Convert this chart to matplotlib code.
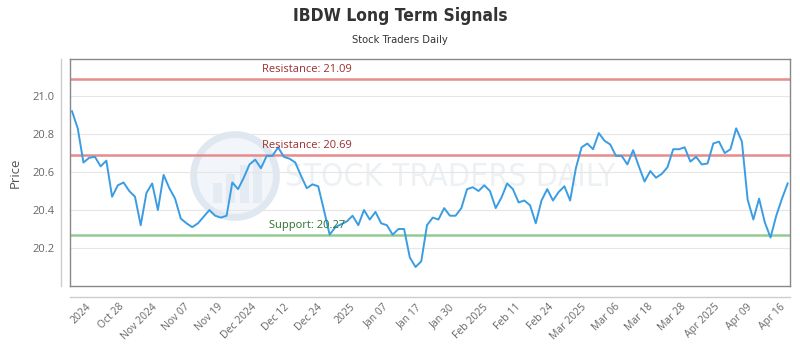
import matplotlib
matplotlib.use('Agg')
import matplotlib.pyplot as plt
from matplotlib.patches import Circle, Rectangle
import numpy as np

# closing prices (one per trading day)
prices = [20.92, 20.83, 20.65, 20.675, 20.68, 20.63, 20.66, 20.47, 20.53, 20.545,
          20.50, 20.47, 20.32, 20.49, 20.54, 20.40, 20.585, 20.515, 20.46, 20.355,
          20.33, 20.31, 20.33, 20.365, 20.40, 20.37, 20.36, 20.37, 20.545, 20.51,
          20.57, 20.64, 20.665, 20.62, 20.685, 20.685, 20.73, 20.68, 20.67, 20.65,
          20.58, 20.515, 20.535, 20.525, 20.40, 20.27, 20.31, 20.325, 20.34, 20.37,
          20.32, 20.40, 20.35, 20.39, 20.33, 20.32, 20.27, 20.30, 20.30, 20.15,
          20.10, 20.13, 20.32, 20.36, 20.35, 20.41, 20.37, 20.37, 20.41, 20.51,
          20.52, 20.50, 20.53, 20.50, 20.41, 20.465, 20.54, 20.51, 20.44, 20.45,
          20.425, 20.33, 20.45, 20.51, 20.45, 20.495, 20.525, 20.45, 20.62, 20.73,
          20.75, 20.72, 20.805, 20.765, 20.745, 20.685, 20.685, 20.64, 20.715, 20.63,
          20.55, 20.605, 20.57, 20.59, 20.625, 20.72, 20.72, 20.73, 20.655, 20.68,
          20.64, 20.645, 20.75, 20.76, 20.70, 20.72, 20.83, 20.76, 20.455, 20.35,
          20.46, 20.335, 20.255, 20.37, 20.46, 20.54]

tick_labels = ['2024', 'Oct 28', 'Nov 2024', 'Nov 07', 'Nov 19', 'Dec 2024',
               'Dec 12', 'Dec 24', '2025', 'Jan 07', 'Jan 17', 'Jan 30',
               'Feb 2025', 'Feb 11', 'Feb 24', 'Mar 2025', 'Mar 06', 'Mar 18',
               'Mar 28', 'Apr 2025', 'Apr 09', 'Apr 16']

resistance_hi = 21.09
resistance_lo = 20.69
support = 20.27

plt.rcParams['font.family'] = ['Open Sans', 'DejaVu Sans']

fig = plt.figure(figsize=(8, 3.5), dpi=100)
fig.patch.set_facecolor('white')

# watermark logo (behind the chart)
logo = fig.add_axes([190/800, 1-221/350, 90/800, 90/350], zorder=0)
logo.set_xlim(-1, 1)
logo.set_ylim(-1, 1)
logo.set_aspect('equal')
logo.axis('off')
logo.add_patch(Circle((0, 0), 0.92, facecolor='#f2f6fa', edgecolor='#dfe8f1', lw=5))
for bx, bh in zip([-0.5, -0.2, 0.1, 0.4], [0.45, 0.65, 0.85, 1.05]):
    logo.add_patch(Rectangle((bx, -0.6), 0.2, bh, facecolor='#e4ebf3', edgecolor='none'))
fig.text(450/800, 1-178/350, 'STOCK TRADERS DAILY', fontsize=23, color='#eef1f4',
         ha='center', va='center', family=['DejaVu Sans'], fontstretch='condensed', zorder=0)

ax = fig.add_axes([70/800, 1-286/350, 720/800, 227/350], zorder=1)
ax.patch.set_alpha(0)

x = np.arange(len(prices))
ax.plot(x, prices, color='#3a9de3', lw=1.4, zorder=3)

ax.axhline(resistance_hi, color='#e68c8c', lw=1.8, zorder=2)
ax.axhline(resistance_lo, color='#e68c8c', lw=1.8, zorder=2)
ax.axhline(support, color='#93cc93', lw=1.8, zorder=2)
lx = 41
ax.annotate('Resistance: %.2f' % resistance_hi, (lx, resistance_hi), xytext=(0, 2.5),
            textcoords='offset points', ha='center', va='bottom', fontsize=8, color='#9b2f2f')
ax.annotate('Resistance: %.2f' % resistance_lo, (lx, resistance_lo), xytext=(0, 2.5),
            textcoords='offset points', ha='center', va='bottom', fontsize=8, color='#9b2f2f')
ax.annotate('Support: %.2f' % support, (lx, support), xytext=(0, 2.5),
            textcoords='offset points', ha='center', va='bottom', fontsize=8, color='#2f6f2f')

ax.set_xlim(-0.35, 125.4)
ax.set_ylim(20.0, 21.195)
ax.set_yticks([20.2, 20.4, 20.6, 20.8, 21.0])
ax.set_yticklabels(['%.1f' % v for v in [20.2, 20.4, 20.6, 20.8, 21.0]])
ax.grid(axis='y', color='#e6e6e6', lw=0.8)
ax.set_axisbelow(True)

ax.set_xticks(np.linspace(3.0, 124.3, len(tick_labels)))
ax.set_xticklabels(tick_labels, rotation=45, ha='right', va='center', rotation_mode='anchor')
ax.tick_params(axis='x', length=0, pad=14, labelsize=7.5, labelcolor='#666666')
ax.tick_params(axis='y', length=0, pad=11, labelsize=8, labelcolor='#666666')

for s in ax.spines.values():
    s.set_color('#888888')
    s.set_linewidth(1)

# outer axis lines
ax.plot([-0.0125, -0.0125], [0, 1], transform=ax.transAxes, color='#cccccc', lw=1, clip_on=False)
ax.plot([0, 1], [-0.048, -0.048], transform=ax.transAxes, color='#cccccc', lw=1, clip_on=False)

ax.set_ylabel('Price', fontsize=9.5, color='#555555')
ax.yaxis.set_label_coords((22 - 70) / 720, 0.5)

fig.text(0.5, 1-16/350, 'IBDW Long Term Signals', ha='center', va='center', fontsize=12.5,
         fontweight='bold', color='#333333', family=['DejaVu Sans'], fontstretch='condensed')
fig.text(0.5, 1-40/350, 'Stock Traders Daily', ha='center', va='center', fontsize=8,
         color='#333333', family=['DejaVu Sans'], fontstretch='condensed')

fig.savefig('out.png', dpi=100, facecolor='white')
